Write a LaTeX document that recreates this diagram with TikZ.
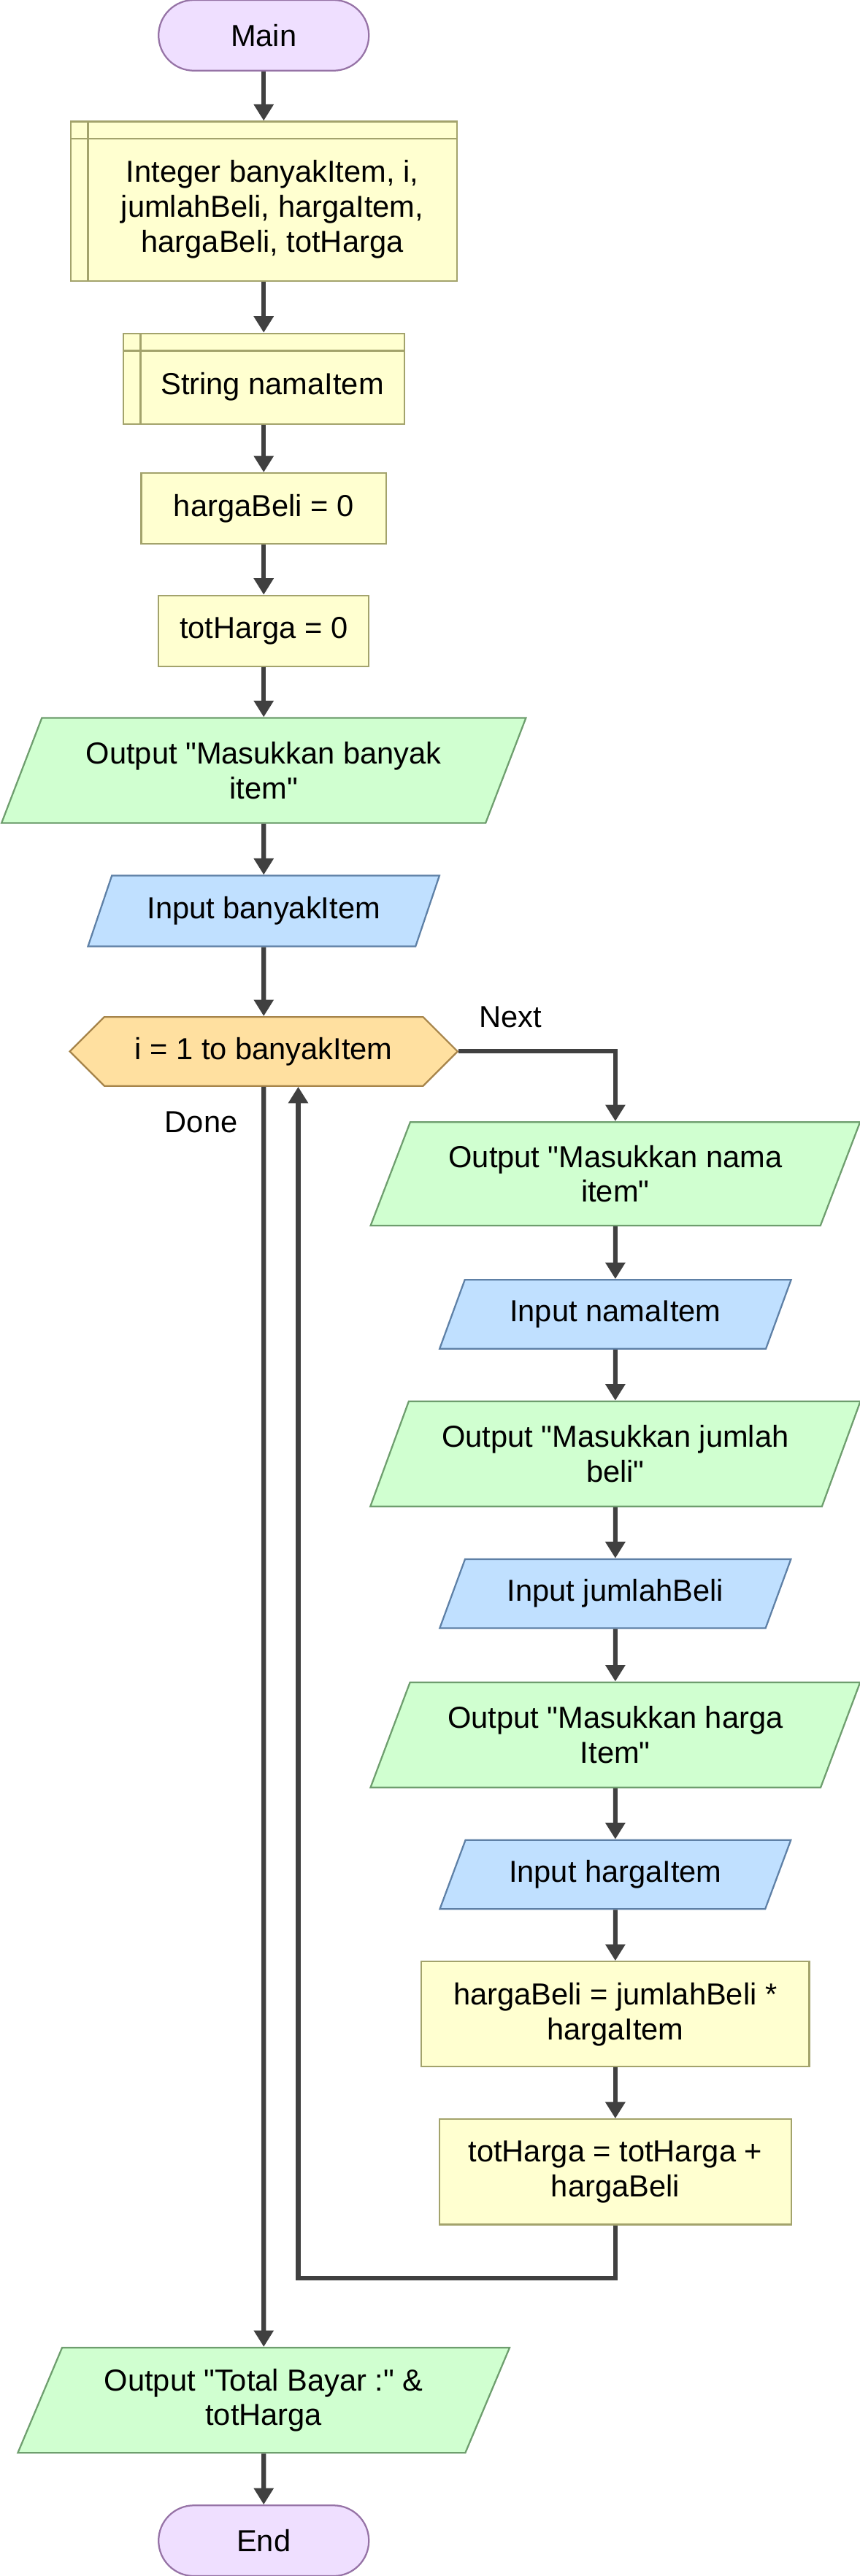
\documentclass[tikz,border=0pt]{standalone}
\usepackage{fontspec}
\setmainfont{Liberation Sans}[Ligatures=TeXOff]
\usetikzlibrary{shapes.geometric,shapes.symbols,arrows.meta}

\definecolor{termfill}{HTML}{EFDFFF}
\definecolor{termline}{HTML}{9673A6}
\definecolor{procfill}{HTML}{FFFFD0}
\definecolor{procline}{HTML}{A3A36C}
\definecolor{loopfill}{HTML}{FFE0A0}
\definecolor{loopline}{HTML}{A6844A}
\definecolor{outfill}{HTML}{D0FFD0}
\definecolor{outline}{HTML}{6E9E6E}
\definecolor{infill}{HTML}{C0E0FF}
\definecolor{inline}{HTML}{5E80A6}
\definecolor{flowline}{HTML}{404040}

% text of a declaration box, set below and right of its inner lines
\newcommand{\decltext}[1]{\raisebox{0pt}[\dimexpr\height+10.5pt\relax][\depth]{\begin{tabular}{@{\hspace{10.5pt}}c@{}}#1\end{tabular}}}

\begin{document}
\begin{tikzpicture}[x=1pt, y=-1pt, font=\fontsize{18.5}{21.3}\selectfont]
	\tikzstyle{term}=[rectangle, rounded corners=21.5pt, minimum width=128pt, minimum height=43pt, draw=termline, fill=termfill, line width=1pt]
	\tikzstyle{proc}=[rectangle, draw=procline, fill=procfill, line width=1pt, align=center]
	\tikzstyle{decl}=[proc, path picture={
		\draw[procline, line width=1pt] ([xshift=10.5pt]path picture bounding box.north west) -- ([xshift=10.5pt]path picture bounding box.south west);
		\draw[procline, line width=1pt] ([yshift=-10.5pt]path picture bounding box.north west) -- ([yshift=-10.5pt]path picture bounding box.north east);}]
	\tikzstyle{outbox}=[trapezium, trapezium left angle=64, trapezium right angle=116, trapezium stretches=true, draw=outline, fill=outfill, line width=1pt, align=center]
	\tikzstyle{inbox}=[outbox, draw=inline, fill=infill]
	\tikzstyle{loopbox}=[signal, signal to=west and east, signal pointer angle=90, minimum width=236pt, minimum height=42pt, draw=loopline, fill=loopfill, line width=1pt]
	\tikzstyle{flow}=[-{Triangle[width=11.6pt,length=10pt]}, line width=2.7pt, flowline]

	\useasboundingbox (0,0) rectangle (523,1568);

	\node[term] (main) at (160.5,21.5) {Main};
	\node[decl, minimum width=235pt, minimum height=97pt] (decl1) at (160.5,122.5) {\decltext{Integer banyakItem, i,\\ jumlahBeli, hargaItem,\\ hargaBeli, totHarga}};
	\node[decl, minimum width=171pt, minimum height=55pt] (decl2) at (160.5,230.5) {\decltext{String namaItem}};
	\node[proc, minimum width=149pt, minimum height=43pt] (init1) at (160.5,309.5) {hargaBeli = 0};
	\node[proc, minimum width=128pt, minimum height=43pt] (init2) at (160.5,384) {totHarga = 0};
	\node[outbox, minimum width=320pt, minimum height=64pt] (out1) at (160.5,469) {Output "Masukkan banyak\\ item"};
	\node[inbox, minimum width=214pt, minimum height=43pt] (in1) at (160.5,554.5) {Input banyakItem};
	\node[loopbox] (loop) at (160.5,640) {i = 1 to banyakItem};
	\node (nextlbl) at (310.5,619) {Next};
	\node (donelbl) at (122.5,683) {Done};

	\node[outbox, minimum width=299pt, minimum height=63pt] (out2) at (374.5,714.5) {Output "Masukkan nama\\ item"};
	\node[inbox, minimum width=214pt, minimum height=42pt] (in2) at (374.5,800) {Input namaItem};
	\node[outbox, minimum width=299pt, minimum height=64pt] (out3) at (374.5,885) {Output "Masukkan jumlah\\ beli"};
	\node[inbox, minimum width=214pt, minimum height=42pt] (in3) at (374.5,970) {Input jumlahBeli};
	\node[outbox, minimum width=299pt, minimum height=64pt] (out4) at (374.5,1056) {Output "Masukkan harga\\ Item"};
	\node[inbox, minimum width=214pt, minimum height=42pt] (in4) at (374.5,1141) {Input hargaItem};
	\node[proc, minimum width=236pt, minimum height=64pt] (calc1) at (374.5,1226) {hargaBeli = jumlahBeli *\\ hargaItem};
	\node[proc, minimum width=214pt, minimum height=64pt] (calc2) at (374.5,1322) {totHarga = totHarga +\\ hargaBeli};

	\node[outbox, minimum width=300pt, minimum height=64pt] (out5) at (160.5,1461) {Output "Total Bayar :" \&\\ totHarga};
	\node[term] (end) at (160.5,1546.5) {End};

	\path[flow]
		(main) edge (decl1)
		(decl1) edge (decl2)
		(decl2) edge (init1)
		(init1) edge (init2)
		(init2) edge (out1)
		(out1) edge (in1)
		(in1) edge (loop)
		(out2) edge (in2)
		(in2) edge (out3)
		(out3) edge (in3)
		(in3) edge (out4)
		(out4) edge (in4)
		(in4) edge (calc1)
		(calc1) edge (calc2)
		(out5) edge (end);
	\draw[flow] (loop.south) -- (out5.north);
	\draw[flow] (loop.east) -| (out2.north);
	\draw[flow] (calc2.south) -- ++(0,32) -| ([xshift=21pt]loop.south);

\end{tikzpicture}
\end{document}
